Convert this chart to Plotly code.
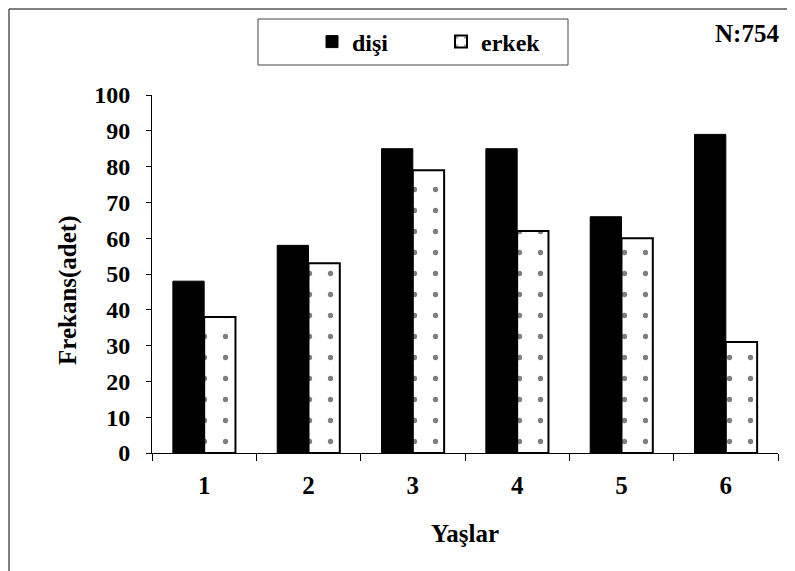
import plotly.graph_objects as go

categories = ["1", "2", "3", "4", "5", "6"]
disi = [48, 58, 85, 85, 66, 89]
erkek = [38, 53, 79, 62, 60, 31]
y_ticks = [0, 10, 20, 30, 40, 50, 60, 70, 80, 90, 100]

# page body has an 8px default margin, so the figure is sized to fit the window
W, H = 787, 563
L, R, T, B = 144, 17, 87, 118
PW, PH = W - L - R, H - T - B


def px(sx):
    # screen x -> paper x
    return (sx - 8 - L) / PW


def py(sy):
    # screen y -> paper y
    return (H - B - (sy - 8)) / PH


FONT = "Liberation Serif"

fig = go.Figure()
fig.add_trace(go.Bar(
    x=categories, y=disi, name="<b>dişi</b>",
    marker=dict(color="black", line=dict(color="black", width=1)),
))
fig.add_trace(go.Bar(
    x=categories, y=erkek, name="<b>erkek</b>",
    marker=dict(color="white", line=dict(color="black", width=2),
                pattern=dict(shape=".", fgcolor="black", bgcolor="white",
                             size=21, solidity=0.05)),
))

fig.update_layout(
    width=W, height=H,
    margin=dict(l=L, r=R, t=T, b=B, pad=0),
    paper_bgcolor="white", plot_bgcolor="white",
    barmode="group", bargap=0.4, bargroupgap=0,
    font=dict(family=FONT, size=24, color="black"),
    showlegend=True,
    legend=dict(orientation="h", x=px(312), y=py(42), xanchor="left", yanchor="middle",
                bgcolor="rgba(0,0,0,0)", borderwidth=0,
                entrywidth=84, entrywidthmode="pixels",
                font=dict(family=FONT, size=24, color="black")),
    xaxis=dict(type="category", tickson="boundaries", ticks="outside", ticklen=7,
               tickcolor="black", showline=True, linecolor="black", linewidth=1,
               showgrid=False, zeroline=False,
               tickfont=dict(family=FONT, size=25, color="black"),
               ticklabelstandoff=10,
               tickvals=categories, ticktext=["<b>%s</b>" % c for c in categories]),
    yaxis=dict(range=[0, 100], tickvals=y_ticks,
               ticktext=["<b>%d</b>" % v for v in y_ticks],
               ticks="outside", ticklen=5, tickcolor="black",
               showline=True, linecolor="black", linewidth=1,
               showgrid=False, zeroline=False,
               tickfont=dict(family=FONT, size=24, color="black"),
               ticklabelstandoff=11),
    shapes=[
        dict(type="rect", xref="paper", yref="paper", x0=px(9), x1=px(805),
             y0=py(590), y1=py(9), line=dict(color="black", width=1)),
        dict(type="rect", xref="paper", yref="paper", x0=px(258), x1=px(568),
             y0=py(65), y1=py(19), line=dict(color="#444", width=1)),
    ],
    annotations=[
        dict(text="<b>N:754</b>", xref="paper", yref="paper", x=px(747), y=py(33),
             xanchor="center", yanchor="middle",
             showarrow=False, font=dict(family=FONT, size=25, color="black")),
        dict(text="<b>Frekans(adet)</b>", xref="paper", yref="paper", x=px(68), y=py(290),
             xanchor="center", yanchor="middle",
             showarrow=False, textangle=-90, font=dict(family=FONT, size=25, color="black")),
        dict(text="<b>Yaşlar</b>", xref="paper", yref="paper", x=px(465), y=py(533),
             xanchor="center", yanchor="middle",
             showarrow=False, font=dict(family=FONT, size=25, color="black")),
    ],
)

fig.write_html("out.html")
